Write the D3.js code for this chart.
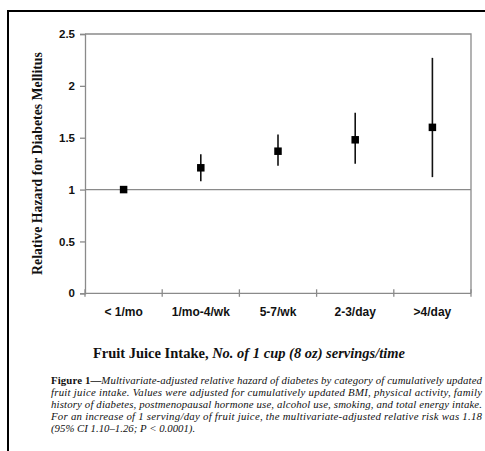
<!DOCTYPE html>
<html><head><meta charset="utf-8">
<script src="https://cdn.jsdelivr.net/npm/d3@7"></script>
<style>body{margin:0;background:#fff}svg{display:block}</style>
</head><body>
<svg id="c" width="485" height="451"></svg>
<script>
const categories = ["< 1/mo", "1/mo-4/wk", "5-7/wk", "2-3/day", ">4/day"];
const hazard = [1.00, 1.21, 1.37, 1.48, 1.60];
const ciLow  = [1.00, 1.08, 1.23, 1.25, 1.12];
const ciHigh = [1.00, 1.34, 1.53, 1.74, 2.27];
const yTicks = [0, 0.5, 1, 1.5, 2, 2.5];
const yTickLabels = ["0", "0.5", "1", "1.5", "2", "2.5"];
const captionLines = [
  ["Figure 1—", "Multivariate-adjusted relative hazard of diabetes by category of cumulatively updated"],
  ["", "fruit juice intake. Values were adjusted for cumulatively updated BMI, physical activity, family"],
  ["", "history of diabetes, postmenopausal hormone use, alcohol use, smoking, and total energy intake."],
  ["", "For an increase of 1 serving/day of fruit juice, the multivariate-adjusted relative risk was 1.18"],
  ["", "(95% CI 1.10–1.26; P < 0.0001)."]
];

const svg = d3.select("#c");
const gray = "#8a8a8a";
// outer frame
svg.append("rect").attr("x", 8).attr("y", 11).attr("width", 500).attr("height", 500)
  .attr("fill", "none").attr("stroke", "#000").attr("stroke-width", 2);

const L = 85, R = 471, T = 34, B = 293.3;
const x = d3.scaleBand().domain(categories).range([L, R]);
const y = d3.scaleLinear().domain([0, 2.5]).range([B, T]);

const g = svg.append("g");
// plot frame (top, right)
g.append("path").attr("d", `M${L},${T}H${R}V${B}`).attr("fill", "none").attr("stroke", gray).attr("stroke-width", 1.3);

// y axis
const yAxis = d3.axisLeft(y).tickValues(yTicks).tickFormat((d, i) => yTickLabels[i]).tickSize(5).tickPadding(5);
const ya = g.append("g").attr("transform", `translate(${L},0)`).call(yAxis);
ya.select(".domain").attr("stroke", gray).attr("stroke-width", 1.3);
ya.selectAll(".tick line").attr("stroke", gray).attr("stroke-width", 1.3);
ya.selectAll(".tick text").attr("font-family", "Liberation Sans, Arial, sans-serif")
  .attr("font-weight", "bold").attr("font-size", 11.5).attr("fill", "#111");

// x axis
const xa = g.append("g").attr("transform", `translate(0,${B})`);
xa.append("line").attr("x1", L).attr("x2", R).attr("stroke", gray).attr("stroke-width", 1.3);
const bounds = categories.map(c => x(c)).concat([R]);
xa.selectAll("line.tk").data(bounds).join("line").attr("class", "tk")
  .attr("x1", d => d).attr("x2", d => d).attr("y1", -4).attr("y2", 3.5)
  .attr("stroke", gray).attr("stroke-width", 1.3);
xa.selectAll("text").data(categories).join("text")
  .attr("x", d => x(d) + x.bandwidth() / 2).attr("y", 23)
  .attr("text-anchor", "middle").attr("font-family", "Liberation Sans, Arial, sans-serif")
  .attr("font-weight", "bold").attr("font-size", 12).attr("fill", "#111").text(d => d);

// reference line at 1
g.append("line").attr("x1", L).attr("x2", R).attr("y1", y(1)).attr("y2", y(1))
  .attr("stroke", gray).attr("stroke-width", 1.3);

// error bars
const cx = i => x(categories[i]) + x.bandwidth() / 2;
g.selectAll("line.err").data(hazard).join("line").attr("class", "err")
  .attr("x1", (d, i) => cx(i)).attr("x2", (d, i) => cx(i))
  .attr("y1", (d, i) => y(ciLow[i])).attr("y2", (d, i) => y(ciHigh[i]))
  .attr("stroke", "#111").attr("stroke-width", 1.6);
// markers
const s = 7.5;
g.selectAll("rect.pt").data(hazard).join("rect").attr("class", "pt")
  .attr("x", (d, i) => cx(i) - s / 2).attr("y", d => y(d) - s / 2)
  .attr("width", s).attr("height", s).attr("fill", "#000");

// y title
svg.append("text").attr("transform", `translate(42,${(50 + 277) / 2}) rotate(-90)`)
  .attr("text-anchor", "middle").attr("font-family", "Liberation Serif, Times New Roman, serif")
  .attr("font-weight", "bold").attr("font-size", 13.8).attr("fill", "#111")
  .text("Relative Hazard for Diabetes Mellitus");

// x title
const xt = svg.append("text").attr("x", 249).attr("y", 358).attr("text-anchor", "middle")
  .attr("font-family", "Liberation Serif, Times New Roman, serif").attr("font-weight", "bold")
  .attr("font-size", 14.5).attr("fill", "#111");
xt.append("tspan").text("Fruit Juice Intake, ");
xt.append("tspan").attr("font-style", "italic").text("No. of 1 cup (8 oz) servings/time");

// caption
const capY = [384, 396, 408, 420, 432];
captionLines.forEach((ln, i) => {
  const t = svg.append("text").attr("x", 51).attr("y", capY[i])
    .attr("font-family", "Liberation Serif, Times New Roman, serif").attr("font-size", 10.8).attr("fill", "#111");
  if (i < 4) t.attr("textLength", 431).attr("lengthAdjust", "spacing");
  if (ln[0]) t.append("tspan").attr("font-weight", "bold").attr("font-style", "normal").text(ln[0]);
  t.append("tspan").attr("font-style", "italic").text(ln[1]);
});
</script>
</body></html>
